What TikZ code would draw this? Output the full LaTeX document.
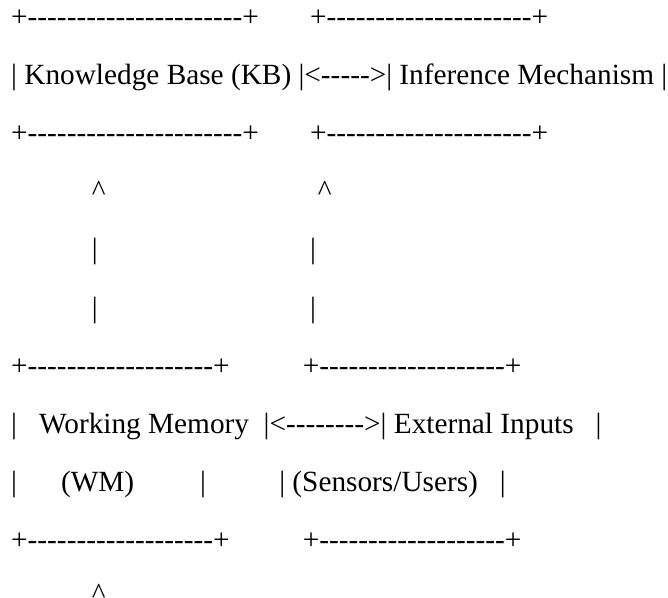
\documentclass[tikz,border=0pt]{standalone}
\usepackage{fontspec}
\setmainfont{Liberation Serif}[Ligatures=TeXOff]
\frenchspacing

% a run of hyphens and a run of blanks, one space wide each
\newcommand{\dashes}[1]{\foreach \k in {1,...,#1}{-}}
\newcommand{\gap}[1]{\hspace*{#1\fontdimen2\font}}

\begin{document}
\begin{tikzpicture}[x=0.5pt,y=-0.5pt,
    row/.style={anchor=base west,inner sep=0pt,font=\fontsize{14.65pt}{17pt}\selectfont}]
    \useasboundingbox (0,0) rectangle (668,598);
    % upper pair of boxes
    \node[row] (kbtop) at (10.8,27) {+\dashes{22}+\gap{7}+\dashes{21}+};
    \node[row] (kbrow) at (10.8,85) {| Knowledge Base (KB) |<----->| Inference Mechanism |};
    \node[row] (kbbot) at (10.8,143) {+\dashes{22}+\gap{7}+\dashes{21}+};
    % links going up
    \node[row] (upA) at (10.8,201) {\gap{11}\textasciicircum\gap{29}\textasciicircum};
    \node[row] (stemA) at (10.8,259) {\gap{11}|\gap{29}|};
    \node[row] (stemB) at (10.8,317) {\gap{11}|\gap{29}|};
    % lower pair of boxes
    \node[row] (wmtop) at (10.8,375) {+\dashes{19}+\gap{10}+\dashes{19}+};
    \node[row] (wmrow) at (10.8,433) {|\gap{3}Working Memory\gap{2}|<-------->| External Inputs\gap{3}|};
    \node[row] (wmsub) at (10.8,491) {|\gap{6}(WM)\gap{9}|\gap{10}| (Sensors/Users)\gap{3}|};
    \node[row] (wmbot) at (10.8,549) {+\dashes{19}+\gap{10}+\dashes{19}+};
    \node[row] (upB) at (10.8,603) {\gap{11}\textasciicircum};
\end{tikzpicture}
\end{document}
